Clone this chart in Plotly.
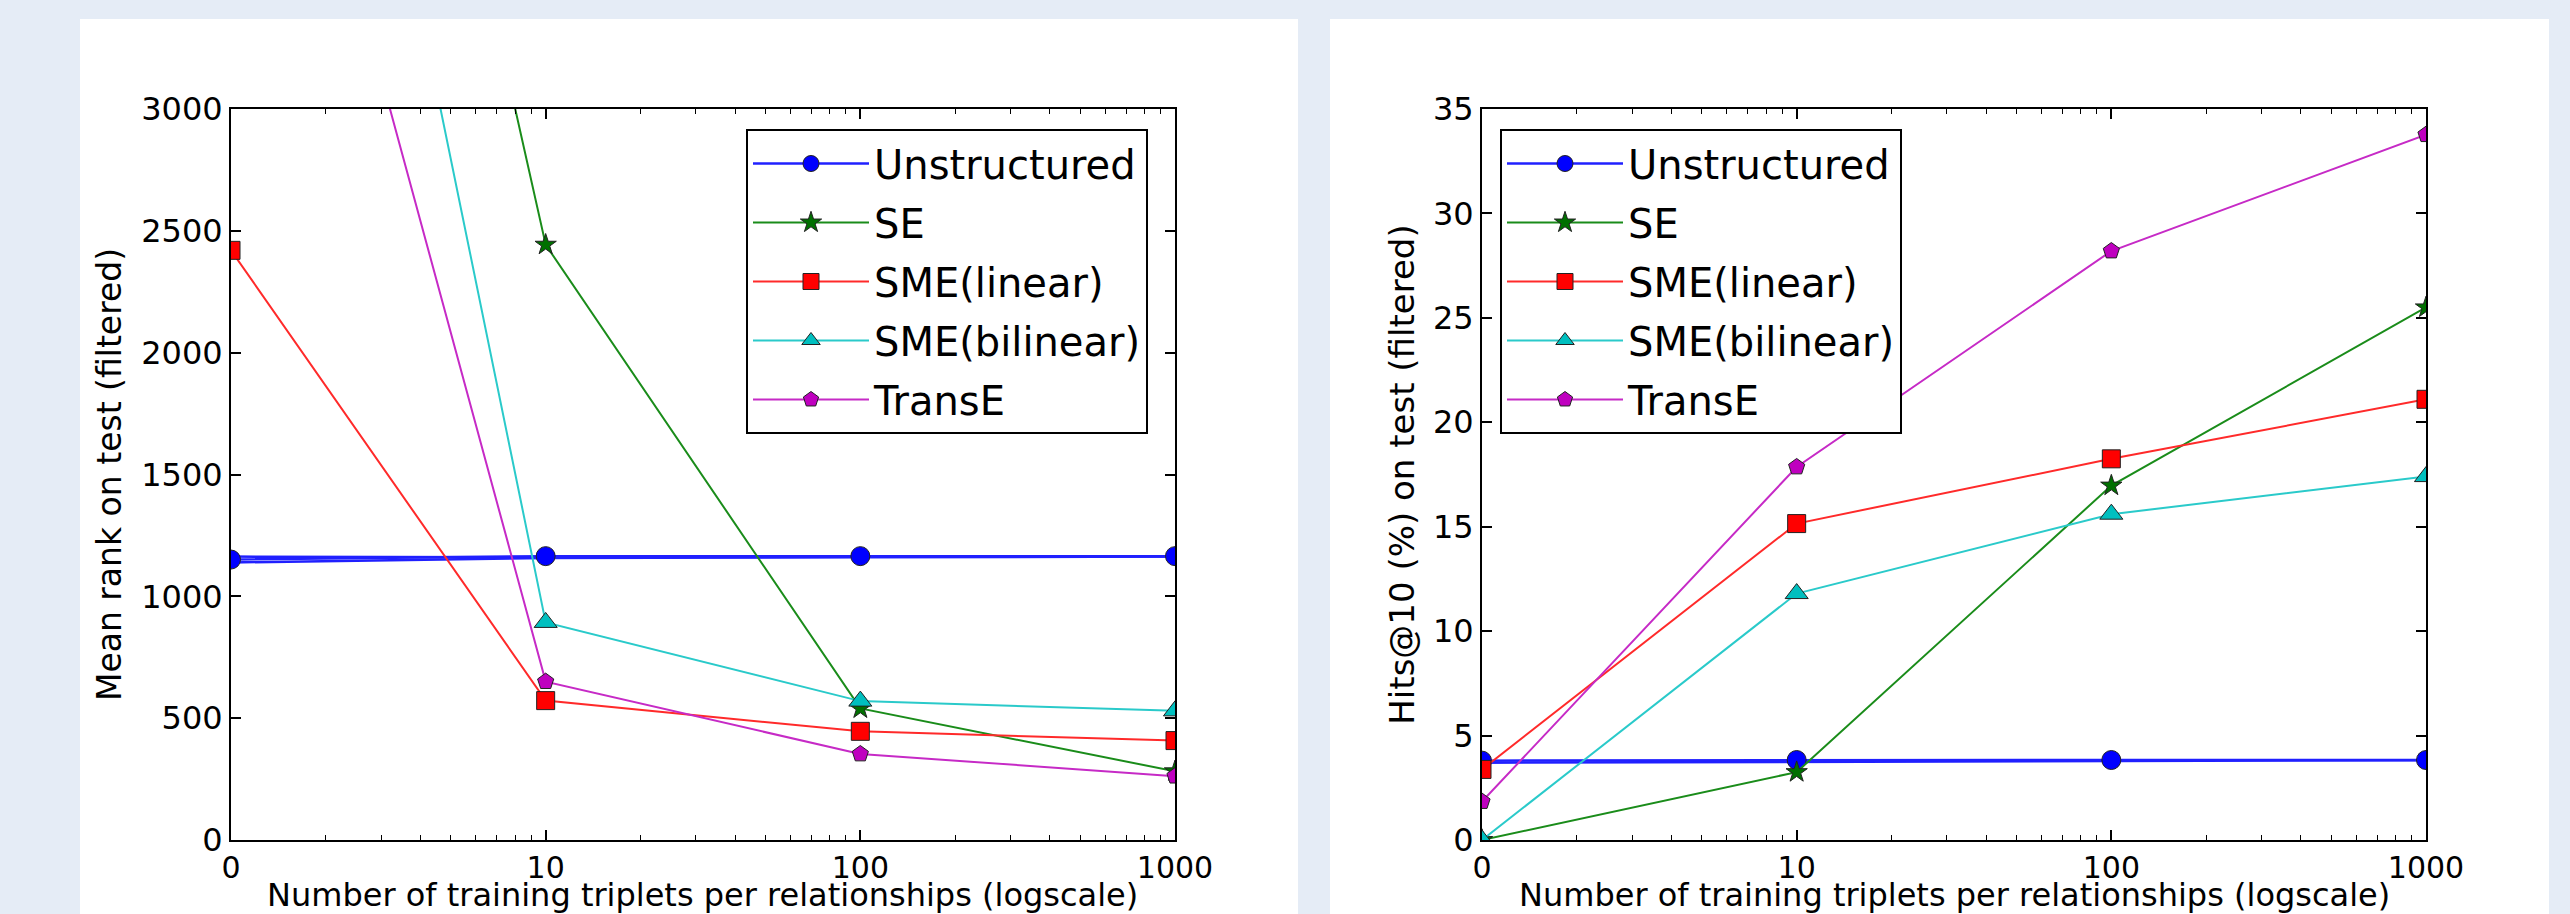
import plotly.graph_objects as go

# ---------------- data ----------------
triplets = [0, 10, 100, 1000]
tick_labels = ["0", "10", "100", "1000"]

models = ["Unstructured", "SE", "SME(linear)", "SME(bilinear)", "TransE"]

x_title = "Number of training triplets per relationships (logscale)"
y_title_left = "Mean rank on test (filtered)"
y_title_right = "Hits@10 (%) on test (filtered)"

# Mean rank on test (filtered)
rank_unstructured = [1151, 1165, 1165, 1165]
rank_unstructured_b = [1163, 1160, 1162, 1164]
rank_unstructured_c = [1139, 1157, 1160, 1163]
rank_se = [8200, 2443, 540, 282]
rank_sme_lin = [2420, 572, 446, 408]
rank_sme_bil = [7200, 893, 570, 530]
rank_transe = [5400, 650, 353, 262]

# Hits@10 (%) on test (filtered)
hits_unstructured = [3.8, 3.83, 3.83, 3.83]
hits_unstructured_b = [3.7, 3.75, 3.8, 3.82]
hits_se = [0.0, 3.25, 16.97, 25.5]
hits_sme_lin = [3.38, 15.15, 18.25, 21.1]
hits_sme_bil = [0.0, 11.8, 15.6, 17.4]
hits_transe = [1.84, 17.86, 28.2, 33.77]

# ---------------- styles ----------------
styles = {
    "Unstructured": dict(color="#0000FF", symbol="circle", size=19),
    "SE": dict(color="#007000", symbol="star", size=16),
    "SME(linear)": dict(color="#FF0000", symbol="square", size=18),
    "SME(bilinear)": dict(color="#00BFBF", symbol="triangle-up", size=20),
    "TransE": dict(color="#BF00BF", symbol="pentagon", size=17),
}
line_colors = {
    "Unstructured": "#2020FF",
    "SE": "#1A8C1A",
    "SME(linear)": "#FF2A2A",
    "SME(bilinear)": "#2ACACA",
    "TransE": "#C62AC6",
}
line_widths = {"Unstructured": 2.5, "SE": 2, "SME(linear)": 2, "SME(bilinear)": 2, "TransE": 2}

x_plot = [max(v, 1) for v in triplets]  # "0" shown at the start of the log axis

fig = go.Figure()

W, H = 2570, 914
PANEL_BG = "#E5ECF6"

# white panels
for x0, x1 in [(80, 1298), (1330, 2549)]:
    fig.add_shape(type="rect", xref="paper", yref="paper",
                  x0=x0 / W, x1=x1 / W, y0=-0.05, y1=1 - 19 / H,
                  fillcolor="white", line=dict(width=0), layer="below")

def add_series(name, y, xa, ya, showlegend, legend, markers=True):
    st = styles[name]
    fig.add_trace(go.Scatter(
        x=x_plot, y=y, name=name, legendgroup=name,
        mode="lines+markers" if markers else "lines",
        line=dict(color=line_colors[name], width=line_widths[name]),
        marker=dict(symbol=st["symbol"], size=st["size"], color=st["color"],
                    line=dict(color="#222222", width=1)),
        xaxis=xa, yaxis=ya, showlegend=showlegend, legend=legend,
        cliponaxis=True,
    ))

# left panel
add_series("Unstructured", rank_unstructured_b, "x", "y", False, "legend", markers=False)
add_series("Unstructured", rank_unstructured_c, "x", "y", False, "legend", markers=False)
left_data = [rank_unstructured, rank_se, rank_sme_lin, rank_sme_bil, rank_transe]
for name, y in zip(models, left_data):
    add_series(name, y, "x", "y", True, "legend")

# right panel
add_series("Unstructured", hits_unstructured_b, "x2", "y2", False, "legend2", markers=False)
right_data = [hits_unstructured, hits_se, hits_sme_lin, hits_sme_bil, hits_transe]
for name, y in zip(models, right_data):
    add_series(name, y, "x2", "y2", True, "legend2")

minor_vals = [m * 10 ** d for d in range(3) for m in range(2, 10)]

xaxis_common = dict(
    type="log", range=[0, 3], tickmode="array", tickvals=x_plot, ticktext=tick_labels,
    ticks="inside", ticklen=10, tickwidth=1.5, tickcolor="black",
    minor=dict(tickvals=minor_vals, ticks="inside", ticklen=5, tickwidth=1.2,
               tickcolor="black", showgrid=False),
    showline=True, linecolor="black", linewidth=2, mirror="allticks",
    showgrid=False, zeroline=False, automargin=False,
    tickfont=dict(family="DejaVu Sans", size=30, color="black"),
)
yaxis_common = dict(
    ticks="inside", ticklen=10, tickwidth=1.5, tickcolor="black",
    showline=True, linecolor="black", linewidth=2, mirror="allticks",
    showgrid=False, zeroline=False, automargin=False,
    tickfont=dict(family="DejaVu Sans", size=32, color="black"),
)

y0 = (H - 840) / H
y1 = (H - 109) / H
left_dom = [231 / W, 1175 / W]
right_dom = [1482 / W, 2426 / W]

legend_common = dict(
    xanchor="left", yanchor="top",
    bgcolor="white", bordercolor="black", borderwidth=2,
    font=dict(family="DejaVu Sans", size=40, color="black"),
    itemwidth=116, tracegroupgap=4,
)

# x-axis titles as annotations (placed just below the tick labels)
for dom in (left_dom, right_dom):
    fig.add_annotation(text=x_title, xref="paper", yref="paper",
                       x=(dom[0] + dom[1]) / 2, y=(H - 895) / H,
                       xanchor="center", yanchor="middle", showarrow=False,
                       font=dict(family="DejaVu Sans", size=32, color="black"))

fig.update_layout(
    width=W, height=H,
    margin=dict(l=0, r=0, t=0, b=0, autoexpand=False),
    paper_bgcolor=PANEL_BG, plot_bgcolor="white",
    xaxis=dict(domain=left_dom, anchor="y", **xaxis_common),
    xaxis2=dict(domain=right_dom, anchor="y2", **xaxis_common),
    yaxis=dict(domain=[y0, y1], anchor="x", range=[0, 3000], tickvals=[0, 500, 1000, 1500, 2000, 2500, 3000],
               title=dict(text=y_title_left,
                          font=dict(family="DejaVu Sans", size=33, color="black"), standoff=10),
               **yaxis_common),
    yaxis2=dict(domain=[y0, y1], anchor="x2", range=[0, 35], tickvals=[0, 5, 10, 15, 20, 25, 30, 35],
                title=dict(text=y_title_right,
                           font=dict(family="DejaVu Sans", size=34, color="black"), standoff=8),
                **yaxis_common),
    legend=dict(x=746 / W, y=1 - 129 / H, **legend_common),
    legend2=dict(x=1500 / W, y=1 - 129 / H, **legend_common),
    showlegend=True,
)

fig.write_html("out.html", config={"displayModeBar": False},
               post_script="document.body.style.margin='0';")
